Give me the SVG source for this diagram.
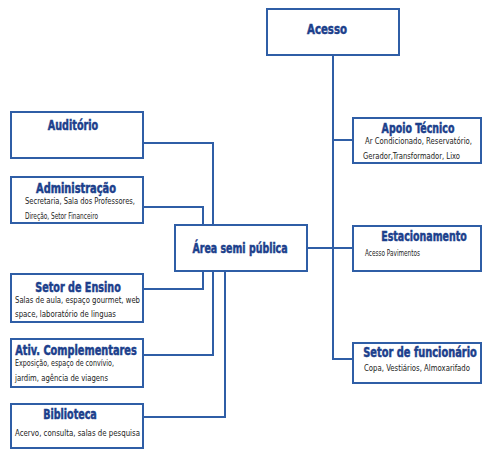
<svg xmlns="http://www.w3.org/2000/svg" width="483" height="449" viewBox="0 0 483 449">
<style>
.box{fill:#fff;stroke:#2f5ea6;stroke-width:2}
.con{fill:none;stroke:#2f5ea6;stroke-width:2}
.t{font-family:"Liberation Sans Narrow","DejaVu Sans Condensed","Liberation Sans",sans-serif;font-weight:bold;font-size:13.5px;fill:#1c3f8c;stroke:#1c3f8c;stroke-width:0.5;text-anchor:middle}
.s{font-family:"Liberation Sans Narrow","DejaVu Sans Condensed","Liberation Sans",sans-serif;font-size:8.5px;fill:#222}
</style>
<rect width="483" height="449" fill="#fff"/>
<g id="connectors">
<path class="con" d="M333 55V359H353M333 140H353M307 248H353"/>
<path class="con" d="M143 143H213V225M143 207H203V225M143 289H203V271M143 355H213V271M143 417H225V271"/>
</g>
<g id="acesso"><rect class="box" x="267" y="9" width="132" height="46"/><text class="t" transform="translate(327 34) scale(0.8 1)" textLength="50" lengthAdjust="spacingAndGlyphs">Acesso</text></g>
<g id="area"><rect class="box" x="175" y="225" width="132" height="46"/><text class="t" transform="translate(240 253) scale(0.8 1)" textLength="119" lengthAdjust="spacingAndGlyphs">Área semi pública</text></g>
<g id="auditorio"><rect class="box" x="11" y="112" width="132" height="46"/><text class="t" transform="translate(73 130) scale(0.8 1)" textLength="63" lengthAdjust="spacingAndGlyphs">Auditório</text></g>
<g id="administracao"><rect class="box" x="11" y="177" width="132" height="46"/><text class="t" transform="translate(76 193) scale(0.8 1)" textLength="100" lengthAdjust="spacingAndGlyphs">Administração</text>
<text class="s" x="25" y="204" textLength="110" lengthAdjust="spacingAndGlyphs">Secretaria, Sala dos Professores,</text>
<text class="s" x="25" y="219" textLength="73" lengthAdjust="spacingAndGlyphs">Direção, Setor Financeiro</text></g>
<g id="ensino"><rect class="box" x="11" y="274" width="132" height="48"/><text class="t" transform="translate(78 292) scale(0.8 1)" textLength="107" lengthAdjust="spacingAndGlyphs">Setor de Ensino</text>
<text class="s" x="15" y="303" textLength="125" lengthAdjust="spacingAndGlyphs">Salas de aula, espaço gourmet, web</text>
<text class="s" x="15" y="317" textLength="101" lengthAdjust="spacingAndGlyphs">space, laboratório de linguas</text></g>
<g id="ativ"><rect class="box" x="11" y="339" width="132" height="48"/><text class="t" transform="translate(76 355) scale(0.8 1)" textLength="152" lengthAdjust="spacingAndGlyphs">Ativ. Complementares</text>
<text class="s" x="15" y="366" textLength="99" lengthAdjust="spacingAndGlyphs">Exposição, espaço de convívio,</text>
<text class="s" x="15" y="381" textLength="93" lengthAdjust="spacingAndGlyphs">jardim, agência de viagens</text></g>
<g id="biblioteca"><rect class="box" x="11" y="404" width="132" height="44"/><text class="t" transform="translate(70 419) scale(0.8 1)" textLength="67" lengthAdjust="spacingAndGlyphs">Biblioteca</text>
<text class="s" x="15" y="436" textLength="125" lengthAdjust="spacingAndGlyphs">Acervo, consulta, salas de pesquisa</text></g>
<g id="apoio"><rect class="box" x="353" y="118" width="128" height="45"/><text class="t" transform="translate(418 133) scale(0.8 1)" textLength="91" lengthAdjust="spacingAndGlyphs">Apoio Técnico</text>
<text class="s" x="365" y="144" textLength="107" lengthAdjust="spacingAndGlyphs">Ar Condicionado, Reservatório,</text>
<text class="s" x="363" y="159" textLength="97" lengthAdjust="spacingAndGlyphs">Gerador,Transformador, Lixo</text></g>
<g id="estacionamento"><rect class="box" x="353" y="226" width="128" height="45"/><text class="t" transform="translate(424 241) scale(0.8 1)" textLength="107" lengthAdjust="spacingAndGlyphs">Estacionamento</text>
<text class="s" x="365" y="256" textLength="55" lengthAdjust="spacingAndGlyphs">Acesso Pavimentos</text></g>
<g id="funcionario"><rect class="box" x="353" y="343" width="128" height="40"/><text class="t" transform="translate(420 357) scale(0.8 1)" textLength="142" lengthAdjust="spacingAndGlyphs">Setor de funcionário</text>
<text class="s" x="364" y="371" textLength="106" lengthAdjust="spacingAndGlyphs">Copa, Vestiários, Almoxarifado</text></g>
</svg>
